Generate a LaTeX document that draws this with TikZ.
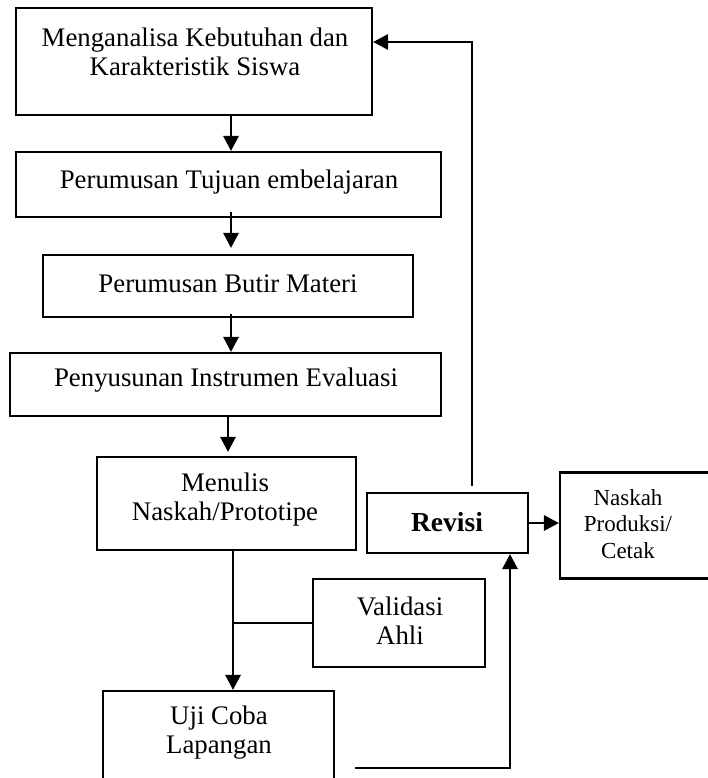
\documentclass[tikz,border=0pt]{standalone}
\usepackage{fontspec}
\setmainfont{Liberation Serif}
\usetikzlibrary{arrows.meta,calc}

\tikzset{
  stepbox/.style={draw, line width=2.1pt, inner sep=0pt, rectangle},
  steptext/.style={align=center, inner sep=0pt, font=\fontsize{26.8}{29}\selectfont},
  smalltext/.style={align=center, inner sep=0pt, font=\fontsize{23}{26.5}\selectfont},
  flow/.style={line width=2.9pt, -{Triangle[length=15pt,width=15pt]}},
  link/.style={line width=2.9pt},
}

\begin{document}
\begin{tikzpicture}[x=1pt,y=-1pt]
\useasboundingbox (0,0) rectangle (708,778);

% ---------- boxes ----------
\node[stepbox, minimum width=356, minimum height=107] (b1) at (194,61.5) {};
\node[steptext] (t1) at (195,52) {Menganalisa Kebutuhan dan\\Karakteristik Siswa};

\node[stepbox, minimum width=425, minimum height=65] (b2) at (228.5,184.5) {};
\node[steptext] (t2) at (229,182) {Perumusan Tujuan embelajaran};

\node[stepbox, minimum width=370, minimum height=62] (b3) at (228,286) {};
\node[steptext] (t3) at (228,284) {Perumusan Butir Materi};

\node[stepbox, minimum width=431, minimum height=63] (b4) at (225.5,384.5) {};
\node[steptext] (t4) at (226,380) {Penyusunan Instrumen Evaluasi};

\node[stepbox, minimum width=259, minimum height=93] (b5) at (226.5,503.5) {};
\node[steptext] (t5) at (225,500) {Menulis\\Naskah/Prototipe};

\node[stepbox, minimum width=172, minimum height=88] (val) at (399,623) {};
\node[steptext] (tv) at (400,621) {Validasi\\Ahli};

\node[stepbox, minimum width=231, minimum height=120] (uji) at (218.5,751) {};
\node[steptext] (tu) at (219,733) {Uji Coba\\Lapangan};

\node[stepbox, minimum width=161, minimum height=60] (rev) at (447.5,523) {};
\node[steptext, font=\fontsize{27.5}{29}\selectfont\bfseries] (tr) at (447,522) {Revisi};

\node[stepbox, minimum width=154, minimum height=106] (nas) at (637,525.5) {};
\node[smalltext] (tn) at (628,524) {Naskah\\Produksi/\\Cetak};

% ---------- connectors ----------
\coordinate (spine) at (231,0);
\coordinate (spineb) at (233,0);
\coordinate (spinec) at (228,0);
\draw[flow] (b1.south -| spine) -- (b2.north -| spine);
\draw[flow] ([yshift=6pt]b2.south -| spine) -- ([yshift=6pt]b3.north -| spine);
\draw[flow] ([yshift=4pt]b3.south -| spine) -- (b4.north -| spine);
\draw[flow] (b4.south -| spinec) -- ([yshift=4pt]b5.north -| spinec);
\draw[flow] (b5.south -| spineb) -- (uji.north -| spineb);
\draw[link] (val.west -| spineb) -- (val.west);

% revision loop back to the first step
\coordinate (up) at (472,42);
\draw[flow] ([yshift=6pt]rev.north -| up) -- (up) -- (up -| b1.east);

% revision to final manuscript
\draw[flow] (rev.east) -- (nas.west |- rev.east);

% field test result back to revision
\coordinate (fb) at (355,768);
\coordinate (fc) at (510,768);
\draw[flow] (fb) -- (fc) -- (rev.south -| fc);
\end{tikzpicture}
\end{document}
